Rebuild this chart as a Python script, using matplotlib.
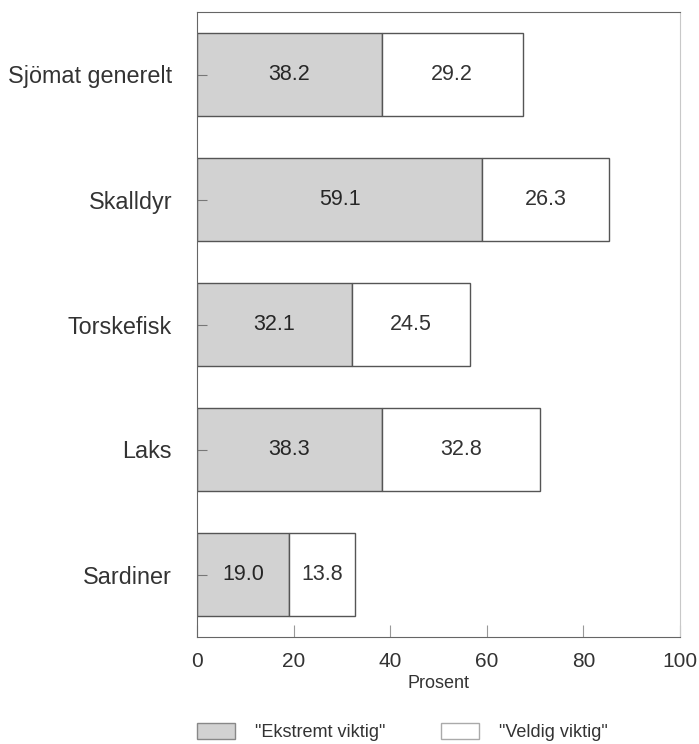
import matplotlib
matplotlib.use('Agg')
import matplotlib.pyplot as plt
from matplotlib.patches import Patch

plt.rcParams['font.family'] = ['Liberation Sans', 'DejaVu Sans']

# Data (prosent)
kategorier = ['Sjömat generelt', 'Skalldyr', 'Torskefisk', 'Laks', 'Sardiner']
ekstremt = [38.2, 59.1, 32.1, 38.3, 19.0]
veldig = [29.2, 26.3, 24.5, 32.8, 13.8]
x_ticks = [0, 20, 40, 60, 80, 100]

grå = '#d2d2d2'
kant = '#555555'
tekst = '#333333'

fig = plt.figure(figsize=(6.99, 7.44), dpi=100)
ax = fig.add_axes([197/699, 1 - 637/744, (680-197)/699, (637-12)/744])

y = list(range(len(kategorier)))
b1 = ax.barh(y, ekstremt, height=0.66, color=grå, edgecolor=kant, linewidth=1.0)
b2 = ax.barh(y, veldig, left=ekstremt, height=0.66, color='white',
             edgecolor=kant, linewidth=1.0)

# Verdier midt i hvert segment
ax.bar_label(b1, labels=[f'{v:.1f}' for v in ekstremt], label_type='center',
             fontsize=15.5, color='#262626')
ax.bar_label(b2, labels=[f'{v:.1f}' for v in veldig], label_type='center',
             fontsize=15.5, color=tekst)

ax.set_xlim(0, 100)
ax.set_ylim(4.5, -0.5)
ax.set_yticks(y)
ax.set_yticklabels(kategorier, fontsize=16.8, color=tekst)
ax.set_xticks(x_ticks)
ax.set_xticklabels([str(t) for t in x_ticks], fontsize=15, color=tekst)
ax.tick_params(axis='y', direction='in', length=7, pad=18, color='#777777')
ax.tick_params(axis='x', direction='in', length=9, pad=11, color='#999999')
ax.set_xlabel('Prosent', fontsize=13, color=tekst, labelpad=3)

for s in ['left', 'bottom', 'top']:
    ax.spines[s].set_color('#666666')
ax.spines['right'].set_color('#c8c8c8')

handles = [Patch(facecolor=grå, edgecolor='#888888', label='"Ekstremt viktig"'),
           Patch(facecolor='white', edgecolor='#aaaaaa', label='"Veldig viktig"')]
fig.legend(handles=handles, loc='center left', bbox_to_anchor=(197/699, 1 - 732/744),
           ncol=2, frameon=False, fontsize=13, handlelength=2.1, handleheight=0.95,
           handletextpad=1.1, columnspacing=3.1, borderpad=0, borderaxespad=0,
           labelcolor=tekst)

fig.savefig('out.png', dpi=100, facecolor='white')
